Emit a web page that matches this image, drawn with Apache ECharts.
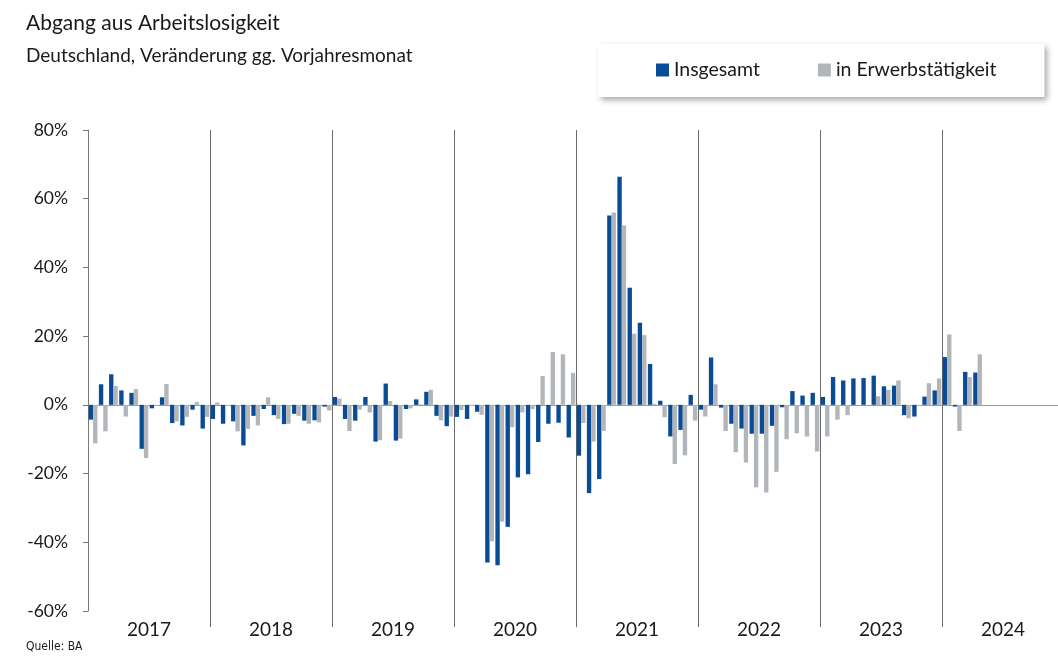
<!DOCTYPE html>
<html>
<head>
<meta charset="utf-8">
<script src="https://cdn.jsdelivr.net/npm/echarts/dist/echarts.min.js"></script>
<style>
html,body{margin:0;padding:0;background:#ffffff;}
#chart{width:1058px;height:657px;}
</style>
</head>
<body>
<div id="chart"></div>
<script>
// ---- data ----
const years = ['2017','2018','2019','2020','2021','2022','2023','2024'];
const monthsPerYear = ['01','02','03','04','05','06','07','08','09','10','11','12'];

// Insgesamt (blue), % change vs. same month previous year
const insgesamt = [
  -4.3, 6.0, 8.9, 4.2, 3.5, -12.8, -1.0, 2.2, -5.3, -6.0, -1.4, -6.9,
  -4.1, -5.5, -4.8, -11.8, -3.2, -1.2, -3.0, -5.6, -2.6, -4.6, -4.5, -0.5,
  2.3, -4.1, -4.6, 2.3, -10.7, 6.2, -10.4, -1.2, 1.6, 3.8, -3.2, -6.2,
  -3.5, -4.1, -2.0, -45.9, -46.7, -35.5, -21.1, -20.2, -10.8, -5.5, -5.2, -9.5,
  -14.8, -25.7, -21.6, 55.1, 66.4, 34.1, 23.9, 11.9, 1.2, -9.2, -7.3, 2.9,
  -1.4, 13.8, -0.8, -5.5, -6.9, -8.4, -8.4, -6.1, -0.7, 4.0, 2.7, 3.5,
  2.3, 8.1, 7.1, 7.7, 7.8, 8.5, 5.4, 5.6, -3.0, -3.4, 2.4, 4.2,
  13.9, -0.5, 9.6, 9.4, null, null, null, null, null, null, null, null
];

// in Erwerbstätigkeit (grey)
const erwerb = [
  -11.2, -7.7, 5.5, -3.4, 4.6, -15.5, -0.2, 6.1, -4.8, -3.5, 0.8, -3.5,
  0.7, -0.3, -7.7, -7.0, -6.0, 2.2, -4.1, -5.5, -3.2, -5.5, -5.1, -1.6,
  1.8, -7.6, -1.4, -2.2, -10.3, 1.1, -9.8, -1.0, 0.2, 4.4, -4.5, -3.4,
  -1.5, -0.3, -2.9, -39.7, -34.0, -6.5, -2.2, -1.2, 8.4, 15.4, 14.7, 9.3,
  -5.3, -10.7, -7.6, 56.0, 52.2, 20.7, 20.3, 0.3, -3.6, -17.2, -14.7, -4.6,
  -3.4, 6.0, -7.6, -13.8, -16.8, -24.0, -25.5, -19.5, -10.0, -8.3, -9.2, -13.6,
  -9.2, -4.3, -3.0, 0, 0, 2.5, 4.4, 7.1, -3.9, -0.3, 6.3, 7.7,
  20.5, -7.6, 8.1, 14.7, null, null, null, null, null, null, null, null
];

const yTicks = { min: -60, max: 80, interval: 20 };

const months = [];
years.forEach(y => monthsPerYear.forEach(m => months.push(y + '-' + m)));

const BLUE = '#0a4b96';
const GREY = '#b2b6bb';
const FONT = 'Lato, "Open Sans", sans-serif';

const chart = echarts.init(document.getElementById('chart'), null, {renderer: 'canvas'});
chart.setOption({
  animation: false,
  backgroundColor: '#ffffff',
  title: {
    text: 'Abgang aus Arbeitslosigkeit',
    subtext: 'Deutschland, Veränderung gg. Vorjahresmonat',
    left: 26, top: 13, padding: 0, itemGap: 12,
    textStyle: {fontFamily: FONT, fontSize: 21, fontWeight: 'normal', color: '#1a1a1a'},
    subtextStyle: {fontFamily: FONT, fontSize: 19, color: '#1a1a1a'}
  },
  legend: {
    left: 598, top: 44,
    padding: [16, 48, 17, 58],
    itemWidth: 13, itemHeight: 13, itemGap: 58,
    icon: 'rect',
    backgroundColor: '#ffffff',
    shadowColor: 'rgba(0,0,0,0.35)', shadowBlur: 6, shadowOffsetX: 3, shadowOffsetY: 3,
    textStyle: {fontFamily: FONT, fontSize: 19.5, color: '#1a1a1a'},
    data: ['Insgesamt', 'in Erwerbstätigkeit']
  },
  grid: {left: 88, width: 976, top: 130, bottom: 46, containLabel: false, outerBoundsMode: 'none'},
  xAxis: [
    {
      type: 'category', data: months,
      axisLine: {show: true, onZero: true, lineStyle: {color: '#9a9a9a', width: 1}},
      axisTick: {show: false}, axisLabel: {show: false}, splitLine: {show: false}
    },
    {
      type: 'category', data: years, position: 'bottom',
      axisLine: {show: false, onZero: false},
      axisTick: {show: true, length: 16, interval: (i) => i > 0, lineStyle: {color: '#6a6a6a'}},
      splitLine: {show: true, lineStyle: {color: '#6a6a6a', width: 1}},
      axisLabel: {fontFamily: FONT, fontSize: 19, color: '#1a1a1a', margin: 9}
    }
  ],
  yAxis: {
    type: 'value', min: yTicks.min, max: yTicks.max, interval: yTicks.interval,
    axisLine: {show: true, lineStyle: {color: '#7a7a7a'}},
    axisTick: {show: true, length: 5, lineStyle: {color: '#7a7a7a'}},
    splitLine: {show: false},
    axisLabel: {formatter: '{value}%', fontFamily: FONT, fontSize: 17.5, color: '#1a1a1a', margin: 20}
  },
  series: [
    {name: 'Insgesamt', type: 'bar', data: insgesamt, itemStyle: {color: BLUE}, barGap: '0%', barCategoryGap: '14%'},
    {name: 'in Erwerbstätigkeit', type: 'bar', data: erwerb, itemStyle: {color: GREY}, barGap: '0%', barCategoryGap: '14%'}
  ],
  graphic: [
    {type: 'text', left: 26, top: 641, style: {text: 'Quelle: BA', font: '12px "Liberation Sans Narrow", "DejaVu Sans Condensed", sans-serif', fill: '#1a1a1a'}}
  ]
});
</script>
</body>
</html>
